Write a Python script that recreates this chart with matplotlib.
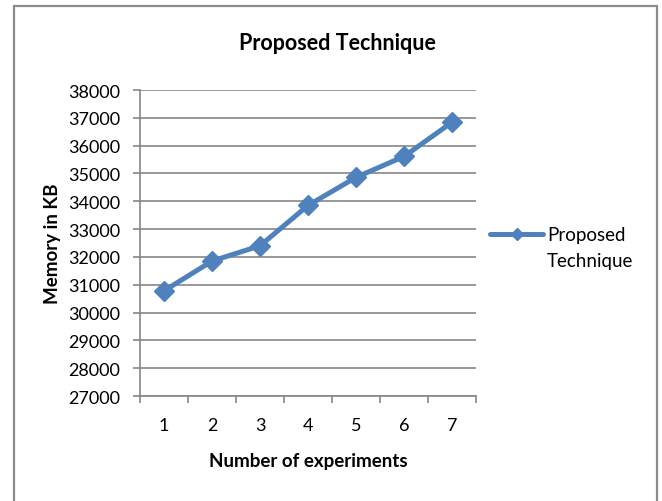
import matplotlib
matplotlib.use("Agg")
import matplotlib.pyplot as plt
from matplotlib.patches import Rectangle
from matplotlib.lines import Line2D
import numpy as np

experiments = [1, 2, 3, 4, 5, 6, 7]
memory_kb = [30780, 31850, 32400, 33850, 34860, 35610, 36840]
series_name = "Proposed Technique"
yticks = np.arange(27000, 38001, 1000)

plt.rcParams['font.family'] = ['Lato', 'DejaVu Sans']
blue = "#4F81BD"
gray = "#868686"

fig = plt.figure(figsize=(6.62, 5.02), dpi=100)
ax = fig.add_axes([140/662, 1 - 397/502, 336/662, 306/502])

ax.plot(experiments, memory_kb, color=blue, lw=3.6, marker="D",
        markersize=10, markerfacecolor=blue, markeredgecolor=blue,
        solid_capstyle="round")

ax.set_xlim(0.5, 7.5)
ax.set_ylim(27000, 38000)
ax.set_yticks(yticks)
ax.set_yticklabels([str(v) for v in yticks], fontsize=13)
ax.set_xticks(experiments)
ax.set_xticklabels([str(v) for v in experiments], fontsize=13)
ax.set_xticks(np.arange(0.5, 8, 1), minor=True)
ax.tick_params(axis="x", which="major", length=0, pad=15)
ax.tick_params(axis="x", which="minor", length=5, color=gray, width=1.2)
ax.tick_params(axis="y", length=5, color=gray, width=1.2, pad=9)
ax.yaxis.grid(True, color=gray, lw=1.2)
ax.set_axisbelow(True)
for s in ["top", "right"]:
    ax.spines[s].set_visible(False)
for s in ["left", "bottom"]:
    ax.spines[s].set_color(gray)
    ax.spines[s].set_linewidth(1.2)

ax.set_xlabel("Number of experiments", fontsize=13.5, fontweight="bold", labelpad=14)
ax.set_ylabel("Memory in KB", fontsize=13.5, fontweight="bold", labelpad=5)
fig.text(337/662, 1 - 44/502, series_name, fontsize=15.5, fontweight="bold",
         ha="center", va="center")

# legend
fig.add_artist(Line2D([490/662, 543/662], [1 - 235/502, 1 - 235/502], color=blue,
                      lw=3.6, solid_capstyle="round"))
fig.add_artist(Line2D([517/662], [1 - 235/502], color=blue, marker="D",
                      markersize=6, lw=0))
fig.text(547/662, 1 - 235/502, "Proposed", fontsize=13.5, va="center", ha="left")
fig.text(547/662, 1 - 262/502, "Technique", fontsize=13.5, va="center", ha="left")

# chart border
fig.add_artist(Rectangle((14/662, -0.1), (657 - 14)/662, 1.1 - 7/502,
                         transform=fig.transFigure, fill=False,
                         edgecolor="#8C8C8C", lw=1.6))

fig.savefig("out.png", dpi=100)
